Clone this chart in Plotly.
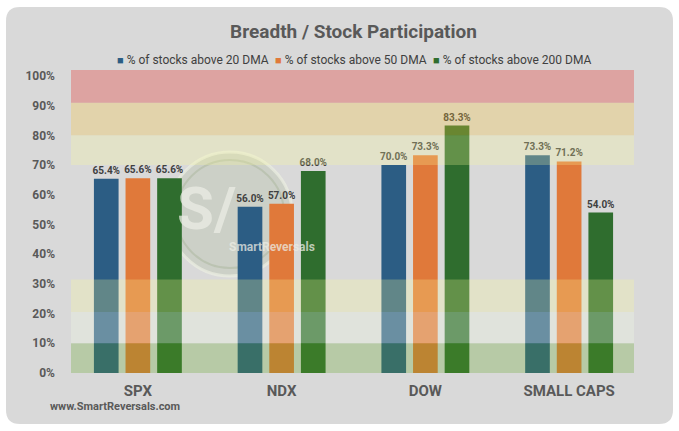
import plotly.graph_objects as go

categories = ["SPX", "NDX", "DOW", "SMALL CAPS"]
series_names = ["% of stocks above 20 DMA", "% of stocks above 50 DMA", "% of stocks above 200 DMA"]
above_20dma = [65.4, 56.0, 70.0, 73.3]
above_50dma = [65.6, 57.0, 73.3, 71.2]
above_200dma = [65.6, 68.0, 83.3, 54.0]
series_colors = ["#2c5d84", "#e0793a", "#2f6d2e"]
y_ticks = [0, 10, 20, 30, 40, 50, 60, 70, 80, 90, 100]
y_tick_text = [f"{v}%" for v in y_ticks]
# zone bands (lower, upper, fill colour)
zone_bands = [
    (0, 10, "rgba(91,162,31,0.27)"),
    (10, 20.5, "rgba(238,248,228,0.32)"),
    (20.5, 31.5, "rgba(250,252,150,0.26)"),
    (70, 80, "rgba(250,252,150,0.26)"),
    (80, 91, "rgba(249,197,60,0.29)"),
    (91, 102, "rgba(225,110,105,0.5)"),
]

W, H = 679, 431
ML, MR, MT, MB = 66, 38, 70, 58
PW, PH = W - ML - MR, H - MT - MB
YMAX = 102

def px_x(p):
    return (p - ML) / PW

def px_y(p):
    return (H - MB - p) / PH

FONT = "Roboto, sans-serif"

fig = go.Figure()
for name, vals, col in zip(series_names, [above_20dma, above_50dma, above_200dma], series_colors):
    fig.add_trace(go.Bar(
        x=categories, y=vals, name=name, marker_color=col, marker_line_width=0,
        texttemplate="%{y:.1f}%", textposition="outside", constraintext="none",
        textfont=dict(family=FONT, size=10, color="#404040", weight="bold"),
        cliponaxis=False, showlegend=False,
    ))

shapes = []
# rounded panel
x0, y0, x1, y1, r = 6, 7, 673, 424, 14
def P(x, y):
    return f"{px_x(x):.5f},{px_y(y):.5f}"
path = (f"M {P(x0 + r, y0)} L {P(x1 - r, y0)} Q {P(x1, y0)} {P(x1, y0 + r)} "
        f"L {P(x1, y1 - r)} Q {P(x1, y1)} {P(x1 - r, y1)} L {P(x0 + r, y1)} "
        f"Q {P(x0, y1)} {P(x0, y1 - r)} L {P(x0, y0 + r)} Q {P(x0, y0)} {P(x0 + r, y0)} Z")
shapes.append(dict(type="path", path=path, xref="paper", yref="paper",
                   fillcolor="#d9d9d9", line=dict(width=0), layer="below"))
# watermark circle
cx, cy, cr = 230, 214, 62
shapes.append(dict(type="circle", xref="paper", yref="paper",
                   x0=px_x(cx - cr), x1=px_x(cx + cr), y0=px_y(cy + cr), y1=px_y(cy - cr),
                   fillcolor="rgba(175,188,160,0.3)", line=dict(color="rgba(235,238,225,0.7)", width=3),
                   layer="below"))
shapes.append(dict(type="circle", xref="paper", yref="paper",
                   x0=px_x(cx - cr + 8), x1=px_x(cx + cr - 8), y0=px_y(cy + cr - 8), y1=px_y(cy - cr + 8),
                   fillcolor="rgba(0,0,0,0)", line=dict(color="rgba(150,165,130,0.3)", width=2),
                   layer="below"))
for lo, hi, col in zone_bands:
    shapes.append(dict(type="rect", xref="paper", yref="y",
                       x0=px_x(71), x1=px_x(634), y0=lo, y1=hi,
                       fillcolor=col, line=dict(width=0), layer="above"))

annotations = [
    dict(text="S/", x=px_x(238), y=px_y(208), xref="paper", yref="paper", showarrow=False,
         xanchor="right",
         font=dict(family=FONT, size=60, color="rgba(235,236,228,0.75)", weight="bold")),
    dict(text="SmartReversals", x=px_x(227), y=px_y(247), xref="paper", yref="paper", showarrow=False,
         font=dict(family=FONT, size=12, color="rgba(235,236,228,0.75)", weight="bold")),
    dict(text="www.SmartReversals.com", x=px_x(49), y=px_y(414), xref="paper", yref="paper",
         xanchor="left", showarrow=False, borderpad=0,
         font=dict(family=FONT, size=11, color="#595959", weight="bold")),
]
# legend drawn as text items (square + label)
legend_x = [115, 273, 431]
for name, col, lx in zip(series_names, series_colors, legend_x):
    annotations.append(dict(
        text=f'<span style="color:{col};font-size:11px">■</span> {name}',
        x=px_x(lx), y=px_y(60), xref="paper", yref="paper", xanchor="left", yanchor="middle",
        showarrow=False, font=dict(family=FONT, size=12, color="#404040")))

fig.update_layout(
    width=W, height=H,
    margin=dict(l=ML, r=MR, t=MT, b=MB),
    paper_bgcolor="white", plot_bgcolor="rgba(0,0,0,0)",
    barmode="group", bargap=0.34, bargroupgap=0.22,
    title=dict(text="Breadth / Stock Participation", x=0.5, xref="paper", xanchor="center",
               y=1 - 31 / H, yanchor="middle",
               font=dict(family=FONT, size=19, color="#595959", weight="bold")),
    shapes=shapes, annotations=annotations,
    showlegend=False,
)
fig.update_xaxes(showgrid=False, showline=False, zeroline=False, ticks="outside", ticklen=4,
                 tickcolor="rgba(0,0,0,0)",
                 tickfont=dict(family=FONT, size=15, color="#595959", weight="bold"))
fig.update_yaxes(range=[0, YMAX], tickmode="array", tickvals=y_ticks, ticktext=y_tick_text,
                 showgrid=False, zeroline=False, showline=False, ticks="", ticklabelstandoff=10,
                 tickfont=dict(family=FONT, size=12, color="#595959", weight="bold"))

fig.write_html("out.html")
